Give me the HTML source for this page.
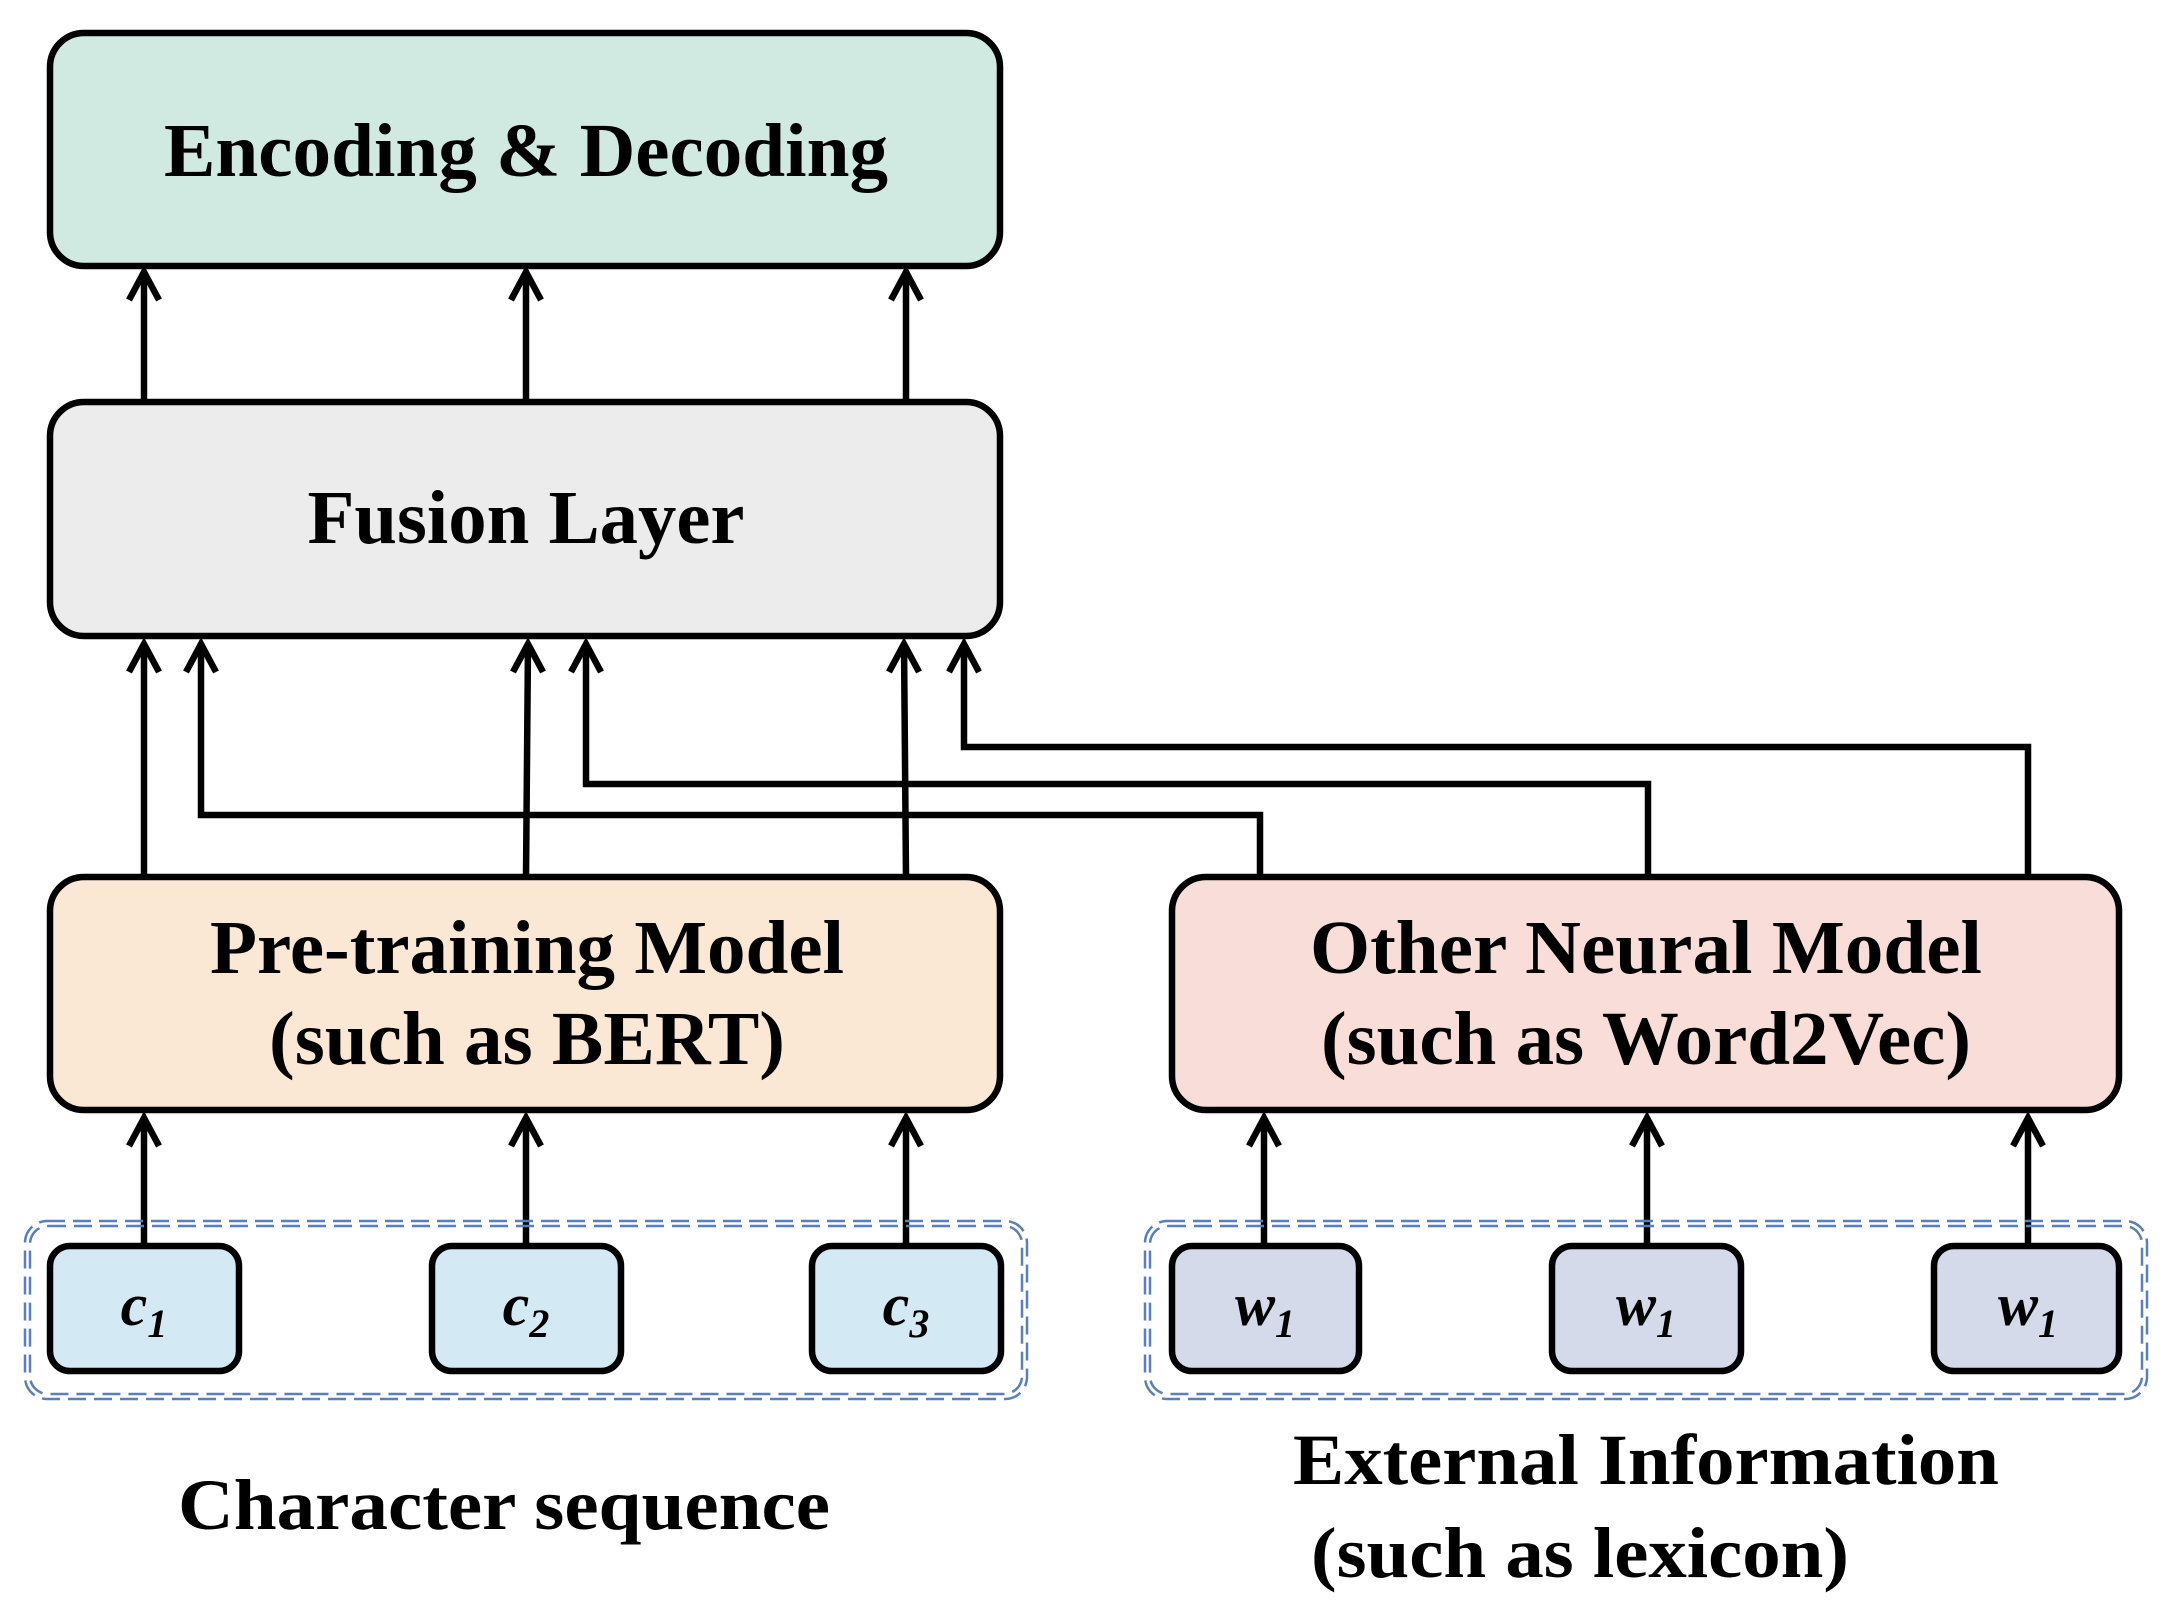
<!DOCTYPE html>
<html><head><meta charset="utf-8"><style>html,body{margin:0;padding:0;background:#fff}svg{display:block}</style></head>
<body>
<svg width="2169" height="1623" viewBox="0 0 2169 1623" xmlns="http://www.w3.org/2000/svg" font-family="'Liberation Serif', serif" font-weight="bold">
<g stroke="#000" stroke-width="6.5" fill="none" stroke-linejoin="miter">
  <path d="M144 402V272M526 402V272M906 402V272"/>
  <path d="M144 877V644M526 877L528 644M906 877L904 644"/>
  <path d="M1260 877V815H201V644"/>
  <path d="M1648 877V784H586V644"/>
  <path d="M2028 877V747H964V644"/>
  <path d="M144 1246V1118M526 1246V1118M906 1246V1118M1264 1246V1118M1647 1246V1118M2028 1246V1118"/>
  <g>
    <path d="M129 300L144 272L159 300M511 300L526 272L541 300M891 300L906 272L921 300"/>
    <path d="M129 672L144 644L159 672M186 672L201 644L216 672M513 672L528 644L543 672M571 672L586 644L601 672M889 672L904 644L919 672M949 672L964 644L979 672"/>
    <path d="M129 1146L144 1118L159 1146M511 1146L526 1118L541 1146M891 1146L906 1118L921 1146M1249 1146L1264 1118L1279 1146M1632 1146L1647 1118L1662 1146M2013 1146L2028 1118L2043 1146"/>
  </g>
</g>
<g fill="none" stroke="#5b7fb8" stroke-width="2.5" stroke-dasharray="18 8">
  <rect x="25" y="1221" width="1002" height="178" rx="22"/>
  <rect x="30" y="1226" width="992" height="168" rx="18"/>
  <rect x="1145" y="1221" width="1002" height="178" rx="22"/>
  <rect x="1150" y="1226" width="992" height="168" rx="18"/>
</g>
<g stroke="#000" stroke-width="6.5">
  <rect x="50" y="33" width="950" height="233" rx="34" fill="#d0eae1"/>
  <rect x="50" y="402" width="950" height="234" rx="34" fill="#ececec"/>
  <rect x="50" y="877" width="950" height="233" rx="34" fill="#fbe8d4"/>
  <rect x="1172" y="877" width="947" height="233" rx="34" fill="#f8ddd9"/>
  <rect x="50" y="1246" width="189" height="125" rx="20" fill="#d3e9f3"/>
  <rect x="432" y="1246" width="189" height="125" rx="20" fill="#d3e9f3"/>
  <rect x="812" y="1246" width="189" height="125" rx="20" fill="#d3e9f3"/>
  <rect x="1172" y="1246" width="187" height="125" rx="20" fill="#d5daea"/>
  <rect x="1552" y="1246" width="189" height="125" rx="20" fill="#d5daea"/>
  <rect x="1934" y="1246" width="185" height="125" rx="20" fill="#d5daea"/>
</g>
<g fill="#000" font-size="76" text-anchor="middle">
  <text x="526" y="176" textLength="724" lengthAdjust="spacingAndGlyphs">Encoding &amp; Decoding</text>
  <text x="526" y="543" textLength="437" lengthAdjust="spacingAndGlyphs">Fusion Layer</text>
  <text x="527" y="973" textLength="634" lengthAdjust="spacingAndGlyphs">Pre-training Model</text>
  <text x="527" y="1064" textLength="516" lengthAdjust="spacingAndGlyphs">(such as BERT)</text>
  <text x="1646" y="973" textLength="672" lengthAdjust="spacingAndGlyphs">Other Neural Model</text>
  <text x="1646" y="1064" textLength="650" lengthAdjust="spacingAndGlyphs">(such as Word2Vec)</text>
  <text x="504" y="1529" font-size="72" textLength="652" lengthAdjust="spacingAndGlyphs">Character sequence</text>
  <text x="1646" y="1484" font-size="72" textLength="706" lengthAdjust="spacingAndGlyphs">External Information</text>
  <text x="1580" y="1577" font-size="72" textLength="538" lengthAdjust="spacingAndGlyphs">(such as lexicon)</text>
</g>
<g fill="#000" font-size="60" font-style="italic" text-anchor="middle">
  <text x="144" y="1325">c<tspan font-size="40" dy="12">1</tspan></text>
  <text x="526" y="1325">c<tspan font-size="40" dy="12">2</tspan></text>
  <text x="906" y="1325">c<tspan font-size="40" dy="12">3</tspan></text>
  <text x="1265" y="1325">w<tspan font-size="40" dy="12">1</tspan></text>
  <text x="1646" y="1325">w<tspan font-size="40" dy="12">1</tspan></text>
  <text x="2028" y="1325">w<tspan font-size="40" dy="12">1</tspan></text>
</g>
</svg>
</body></html>
